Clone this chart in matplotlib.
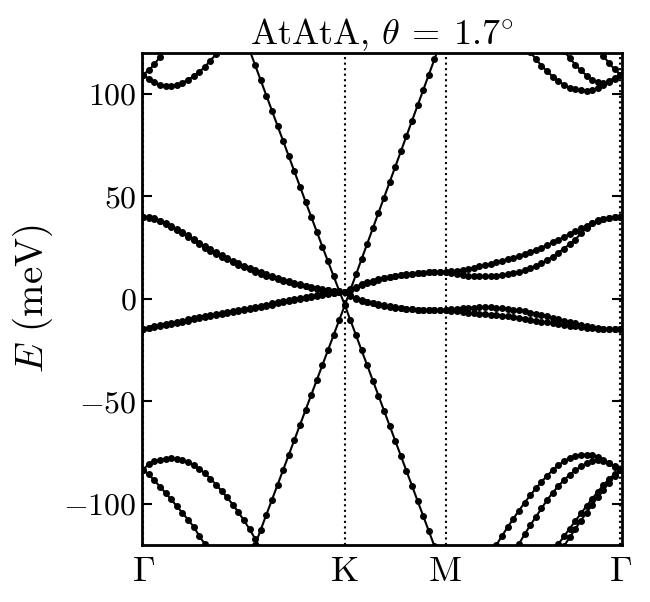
import numpy as np
import matplotlib
matplotlib.use("Agg")
import matplotlib.pyplot as plt

plt.rcParams['font.family'] = 'serif'
plt.rcParams['font.serif'] = ['cmr10']
plt.rcParams['mathtext.fontset'] = 'cm'
plt.rcParams['axes.formatter.use_mathtext'] = True

# path G-K-M-G, segment lengths 1 : 1/2 : sqrt(3)/2, k-points per segment
seg_len = [1.0, 0.5, np.sqrt(3) / 2]
seg_pts = [36, 18, 31]
k_labels = [r'$\Gamma$', 'K', 'M', r'$\Gamma$']

# flat bands (meV), one value per k-point along the path
flat1 = [40.0, 39.8, 39.3, 38.2, 37.0, 35.7, 34.2, 32.6, 31.0, 29.3, 27.5, 25.8, 24.2, 22.7, 21.3, 20.0,
         18.7, 17.5, 16.3, 15.1, 14.0, 13.0, 12.0, 11.1, 10.2, 9.4, 8.6, 7.8, 7.1, 6.4, 5.9, 5.3, 4.8, 4.4,
         4.0, 3.7, 3.5,
         4.8, 6.0, 7.1, 8.1, 8.9, 9.7, 10.4, 10.9, 11.4, 11.8, 12.1, 12.4, 12.7, 12.9, 13.1, 13.2, 13.3, 13.3,
         13.5, 13.8, 14.2, 14.7, 15.3, 15.9, 16.5, 17.1, 17.8, 18.6, 19.4, 20.2, 21.1, 22.0, 23.0, 24.0,
         25.1, 26.3, 27.6, 28.9, 30.3, 31.7, 33.1, 34.5, 35.8, 37.0, 38.1, 38.9, 39.5, 39.8, 39.9]
flat2 = [40.0, 39.7, 39.0, 37.8, 36.5, 35.1, 33.6, 32.0, 30.3, 28.6, 26.8, 25.1, 23.5, 22.0, 20.6, 19.3,
         18.0, 16.8, 15.6, 14.5, 13.4, 12.4, 11.4, 10.5, 9.7, 8.9, 8.1, 7.4, 6.7, 6.1, 5.5, 5.0, 4.6, 4.2,
         3.9, 3.6, 3.5,
         4.5, 5.6, 6.7, 7.6, 8.5, 9.3, 10.0, 10.6, 11.1, 11.5, 11.9, 12.2, 12.5, 12.8, 13.0, 13.2, 13.3, 13.3,
         12.6, 12.1, 11.7, 11.4, 11.2, 11.1, 11.1, 11.2, 11.4, 11.7, 12.1, 12.6, 13.3, 14.1, 15.1, 16.2,
         17.5, 19.0, 20.7, 22.6, 24.6, 26.8, 29.0, 32.0, 34.8, 36.9, 38.3, 39.2, 39.6, 39.8, 39.9]
flat3 = [-14.6, -14.1, -13.6, -13.0, -12.5, -12.0, -11.5, -11.0, -10.5, -9.9, -9.4, -8.9, -8.4, -7.9,
         -7.3, -6.8, -6.3, -5.8, -5.3, -4.8, -4.2, -3.7, -3.2, -2.7, -2.2, -1.6, -1.1, -0.6, -0.1, 0.4,
         0.9, 1.5, 2.0, 2.5, 2.9, 3.2, 3.4,
         1.4, -0.1, -0.9, -1.6, -2.2, -2.8, -3.3, -3.7, -4.2, -4.6, -4.9, -5.1, -5.3, -5.4, -5.5, -5.5, -5.5, -5.5,
         -5.1, -4.8, -4.5, -4.3, -4.2, -4.1, -4.1, -4.1, -4.3, -4.5, -4.8, -5.2, -5.6, -6.1, -6.6, -7.1,
         -7.7, -8.4, -9.1, -9.8, -10.5, -11.2, -11.9, -12.6, -13.2, -13.7, -14.1, -14.4, -14.6, -14.7, -14.8]
flat4 = [-14.6, -14.0, -13.4, -12.7, -12.1, -11.6, -11.0, -10.5, -10.0, -9.4, -8.9, -8.4, -7.9, -7.4,
         -6.8, -6.3, -5.8, -5.3, -4.8, -4.3, -3.7, -3.2, -2.7, -2.2, -1.7, -1.2, -0.7, -0.2, 0.3, 0.8,
         1.3, 1.8, 2.3, 2.7, 3.0, 3.3, 3.4,
         1.7, 0.3, -0.6, -1.3, -2.0, -2.6, -3.1, -3.6, -4.0, -4.4, -4.7, -5.0, -5.2, -5.3, -5.4, -5.5, -5.5, -5.5,
         -5.8, -6.1, -6.4, -6.7, -6.9, -7.1, -7.3, -7.6, -7.9, -8.2, -8.5, -8.9, -9.3, -9.7, -10.1, -10.6,
         -11.0, -11.4, -11.8, -12.2, -12.6, -13.0, -13.4, -13.8, -14.1, -14.3, -14.5, -14.6, -14.7, -14.8, -14.8]

# dispersive bands: (first k index, values)
dirac1 = (18, [128.8, 121.4, 114.0, 106.6, 99.2, 91.8, 84.4, 77.0, 69.6, 62.2, 54.8, 47.4, 40.1, 32.8,
               25.5, 18.3, 11.1, 4.0, -3.0, -10.4, -17.7, -25.1, -32.4, -39.8, -47.1, -54.5, -61.8,
               -69.2, -76.5, -83.9, -91.2, -98.6, -105.9, -113.3, -120.6, -128.0])
dirac2 = (19, [-127.1, -119.8, -112.5, -105.2, -97.9, -90.6, -83.3, -76.0, -68.7, -61.4, -54.1, -46.8,
               -39.5, -32.2, -24.9, -17.6, -10.3, -3.0, 4.5, 12.0, 19.5, 27.0, 34.5, 42.0, 49.5, 57.0,
               64.5, 72.0, 79.5, 87.0, 94.5, 102.0, 109.5, 117.0, 124.5])
remote_gk_up1 = (0, [109.5, 111.5, 114.5, 118.0, 122.0])
remote_gk_up2 = (0, [109.5, 107.5, 105.7, 104.6, 103.9, 103.8, 104.2, 105.5, 106.9, 108.6, 110.7,
                     113.2, 116.3, 119.3, 122.5])
remote_gk_dn1 = (0, [-83.3, -80.5, -79.2, -78.3, -77.9, -77.8, -78.0, -78.6, -79.6, -81.0, -82.8, -85.0,
                     -87.6, -90.5, -93.6, -96.8, -100.3, -104.0, -108.0, -112.3, -117.0, -122.0])
remote_gk_dn2 = (0, [-83.3, -85.5, -88.5, -91.5, -94.6, -97.8, -101.0, -104.3, -107.6, -111.0, -115.5,
                     -119.5, -124.0])
remote_mg_up1 = (68, [124.0, 120.5, 117.0, 113.8, 111.0, 108.5, 106.3, 104.5, 103.1, 102.2, 101.7, 101.6,
                      102.0, 103.0, 104.5, 106.3, 108.0, 109.5])
remote_mg_up2 = (74, [124.5, 121.0, 117.5, 114.3, 111.5, 109.0, 107.0, 105.7, 105.3, 105.9, 107.5, 109.5])
remote_mg_up3 = (80, [125.5, 122.0, 118.5, 115.0, 112.0, 109.5])
remote_mg_dn1 = (62, [-124.5, -120.0, -115.5, -111.3, -107.2, -103.2, -99.4, -95.8, -92.4, -89.2, -86.2,
                      -83.5, -81.1, -79.1, -77.5, -76.5, -76.0, -75.9, -76.3, -77.2, -78.5, -80.2, -82.0, -83.5])
remote_mg_dn2 = (66, [-124.0, -119.5, -114.8, -110.4, -106.3, -102.2, -98.0, -94.5, -91.2, -88.3, -85.8,
                      -83.6, -81.7, -80.1, -79.0, -78.6, -78.9, -80.0, -81.6, -83.5])
remote_mg_dn3 = (73, [-123.3, -119.5, -115.8, -112.0, -108.3, -104.6, -101.0, -97.4, -94.0, -90.7, -87.8,
                      -85.4, -83.5])
remote_mg_dn4 = (74, [-124.7, -120.5, -116.3, -112.2, -108.1, -104.2, -100.4, -96.6, -93.0, -89.6, -86.4, -83.5])

# k grid
k = [0.0]
for L, n in zip(seg_len, seg_pts):
    k += list(k[-1] + L * np.arange(1, n + 1) / n)
k = np.array(k)
k_nodes = np.concatenate([[0], np.cumsum(seg_len)])

bands = [(0, flat1), (0, flat2), (0, flat3), (0, flat4), dirac1, dirac2,
         remote_gk_up1, remote_gk_up2, remote_gk_dn1, remote_gk_dn2,
         remote_mg_up1, remote_mg_up2, remote_mg_up3,
         remote_mg_dn1, remote_mg_dn2, remote_mg_dn3, remote_mg_dn4]

fig = plt.figure(figsize=(6.5, 6.02), dpi=100)
ax = fig.add_axes([0.2177, 0.0947, 0.7392, 0.8173])

for start, vals in bands:
    ax.plot(k[start:start + len(vals)], vals, 'k-', lw=1.5, marker='o', ms=4)

for kn in k_nodes:
    ax.axvline(kn, color='k', ls=':', lw=1.5, zorder=3)

pad = 0.008
ax.set_xlim(k_nodes[0] - pad, k_nodes[-1] + pad)
ax.set_ylim(-120, 120)
ax.set_xticks(k_nodes)
ax.set_xticklabels(k_labels, fontsize=26)
ax.set_yticks([-100, -50, 0, 50, 100])
ax.tick_params(axis='y', direction='in', right=True, length=7, width=1.5, labelsize=23)
ax.tick_params(axis='x', length=0, pad=8)
for sp in ax.spines.values():
    sp.set_linewidth(2)

ax.set_ylabel(r'$E$ (meV)', fontsize=28, labelpad=6)
ax.set_title(r'AtAtA, $\theta\:=\:1.7^{\circ}$', fontsize=26, pad=5)

fig.savefig('out.png', dpi=100)
